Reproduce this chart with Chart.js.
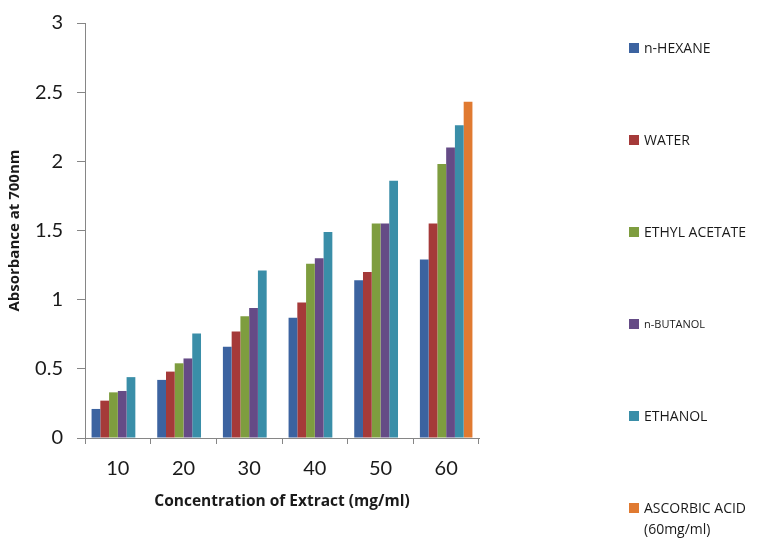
<!DOCTYPE html>
<html>
<head>
<meta charset="utf-8">
<script src="https://cdn.jsdelivr.net/npm/chart.js@4/dist/chart.umd.min.js"></script>
<style>
  html, body { margin: 0; padding: 0; background: #fff; }
  #wrap { position: relative; width: 763px; height: 540px; }
  #legend { position: absolute; left: 629px; top: 0; font-family: "Open Sans", Lato, sans-serif; color: #1a1a1a; }
  .item { position: absolute; left: 0; white-space: nowrap; font-size: 14px; line-height: 21px; }
  .box { position: absolute; left: 0; top: 6px; width: 10px; height: 10px; }
  .lbl { position: absolute; left: 15px; top: 0; }
</style>
</head>
<body>
<div id="wrap">
  <canvas id="c" width="763" height="540"></canvas>
  <div id="legend"></div>
</div>
<script>
// Concentrations of extract (mg/ml)
const categories = ['10', '20', '30', '40', '50', '60'];

// Absorbance at 700 nm for each solvent extract
const nHexane      = [0.21, 0.42, 0.66, 0.87, 1.14, 1.29];
const water        = [0.27, 0.48, 0.77, 0.98, 1.20, 1.55];
const ethylAcetate = [0.33, 0.54, 0.88, 1.26, 1.55, 1.98];
const nButanol     = [0.34, 0.575, 0.94, 1.30, 1.55, 2.10];
const ethanol      = [0.44, 0.755, 1.21, 1.49, 1.86, 2.26];
// Standard, measured only at 60 mg/ml
const ascorbicAcid = [null, null, null, null, null, 2.43];

const seriesNames = ['n-HEXANE', 'WATER', 'ETHYL ACETATE', 'n-BUTANOL', 'ETHANOL', ['ASCORBIC ACID', '(60mg/ml)']];
const seriesColors = ['#3c63a0', '#a53a39', '#7e9d3f', '#654b86', '#3a8ea8', '#e07a31'];
const seriesValues = [nHexane, water, ethylAcetate, nButanol, ethanol, ascorbicAcid];

const yTicks = [0, 0.5, 1, 1.5, 2, 2.5, 3];

const TICK_FONT = 'Lato, "Open Sans", sans-serif';
const TITLE_FONT = '"Open Sans", Lato, sans-serif';

const datasets = seriesValues.map((vals, i) => ({
  label: Array.isArray(seriesNames[i]) ? seriesNames[i].join(' ') : seriesNames[i],
  data: vals,
  backgroundColor: seriesColors[i],
  borderWidth: 0,
  categoryPercentage: 0.8,
  barPercentage: 1.0
}));

new Chart(document.getElementById('c'), {
  type: 'bar',
  data: { labels: categories, datasets },
  options: {
    responsive: false,
    animation: false,
    layout: { padding: { left: 0, right: 284, top: 23, bottom: 0 } },
    plugins: { legend: { display: false }, tooltip: { enabled: false } },
    scales: {
      x: {
        offset: true,
        grid: { display: true, drawOnChartArea: false, drawTicks: true, tickLength: 6, color: '#868686', offset: true },
        border: { color: '#868686', width: 1 },
        ticks: { color: '#1a1a1a', font: { family: TICK_FONT, size: 20 }, padding: 13 },
        title: { display: true, text: 'Concentration of Extract (mg/ml)', color: '#1a1a1a',
                 font: { family: TITLE_FONT, size: 15.5, weight: 'bold' }, padding: { top: 0, bottom: 29 } },
        afterFit: s => { s.height = 102; }
      },
      y: {
        min: 0, max: 3,
        afterBuildTicks: s => { s.ticks = yTicks.map(v => ({ value: v })); },
        grid: { display: true, drawOnChartArea: false, drawTicks: true, tickLength: 8, color: '#868686' },
        border: { color: '#868686', width: 1 },
        ticks: { color: '#1a1a1a', font: { family: TICK_FONT, size: 20 }, padding: 14,
                 callback: v => String(v) },
        title: { display: true, text: 'Absorbance at 700nm', color: '#1a1a1a',
                 font: { family: TITLE_FONT, size: 15, weight: 'bold' }, padding: { top: 6, bottom: 0 } },
        // fixed axis width; label overhang handled by the layout padding
        afterFit: s => { s.width = 85; s.paddingTop = 0; s.paddingBottom = 0; }
      }
    }
  }
});

// Legend on the right, one entry per series, widely spaced
const legend = document.getElementById('legend');
const legendTops = [37, 129, 221, 313, 405, 497];
seriesNames.forEach((name, i) => {
  const item = document.createElement('div');
  item.className = 'item';
  item.style.top = legendTops[i] + 'px';
  if (i === 3) { item.style.fontSize = '11px'; }
  const box = document.createElement('div');
  box.className = 'box';
  box.style.background = seriesColors[i];
  const lbl = document.createElement('div');
  lbl.className = 'lbl';
  lbl.innerHTML = Array.isArray(name) ? name.join('<br>') : name;
  item.appendChild(box);
  item.appendChild(lbl);
  legend.appendChild(item);
});
</script>
</body>
</html>
